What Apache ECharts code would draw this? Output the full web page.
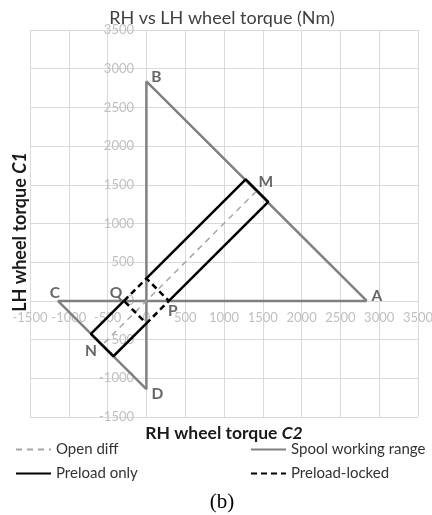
<!DOCTYPE html>
<html>
<head>
<meta charset="utf-8">
<script src="https://cdn.jsdelivr.net/npm/echarts@6/dist/echarts.min.js"></script>
<style>
html,body{margin:0;padding:0;background:#fff;}
#chart{width:432px;height:515px;}
</style>
</head>
<body>
<div id="chart"></div>
<script>
// ---- data ----
const spoolRange = [[2840, 0], [0, 2835], [0, -1140], [-1140, 0], [2840, 0]];
const openDiff = [[-545, -545], [1415, 1415]];
const preloadOnlyLower = [[-290, 0], [-715, -425], [-425, -715], [0, -290]];
const preloadOnlyUpper = [[0, 290], [1280, 1570], [1570, 1280], [290, 0]];
const preloadLocked = [[-290, 0], [0, 290], [290, 0], [0, -290], [-290, 0]];
const pointNames = ['A', 'B', 'C', 'D', 'M', 'N', 'P', 'Q'];
const pointCoords = [[2840, 0], [0, 2835], [-1140, 0], [0, -1140], [1280, 1570], [-715, -425], [290, 0], [-290, 0]];
const axisMin = -1500, axisMax = 3500, axisStep = 500;
const seriesNames = ['Open diff', 'Spool working range', 'Preload only', 'Preload-locked'];

// ---- styling / layout ----
const labelOffsets = {A: [10, -5], B: [10, -4], C: [-3, -8], D: [11, 5], M: [20, 3], N: [0, 17], P: [4, 10], Q: [-8, -8]};
const W = 432, H = 515;
const G = {left: 30, right: 14, top: 30, bottom: 98};
const plotW = W - G.left - G.right, plotH = H - G.top - G.bottom;
// shift axes so they cross at zero (value 0 position inside the grid)
const zeroFrac = (0 - axisMin) / (axisMax - axisMin);
const xAxisOffset = -Math.round(zeroFrac * plotH);
const yAxisOffset = -Math.round(zeroFrac * plotW);

const FONT = 'Lato, "Open Sans", sans-serif';
const chart = echarts.init(document.getElementById('chart'), null, {renderer: 'canvas'});

const axisCommon = {
  type: 'value', min: axisMin, max: axisMax, interval: axisStep,
  axisLine: {show: false, onZero: false},
  axisTick: {show: false},
  splitLine: {show: true, lineStyle: {color: '#d9d9d9', width: 1}},
  axisLabel: {color: '#bfbfbf', fontSize: 13, fontFamily: FONT, formatter: v => String(v),
              showMinLabel: true, showMaxLabel: true, hideOverlap: false}
};

const legendCommon = {
  itemWidth: 35, itemHeight: 14, padding: 0, itemGap: 0, selectedMode: false,
  itemStyle: {color: 'rgba(0,0,0,0)', borderWidth: 0, opacity: 0},
  textStyle: {fontSize: 15, color: '#333333', fontFamily: FONT}
};

chart.setOption({
  animation: false,
  backgroundColor: '#fff',
  title: [
    {text: 'RH vs LH wheel torque (Nm)', left: 222, top: 9, textAlign: 'center', padding: 0,
     textStyle: {fontSize: 18, fontWeight: 'normal', color: '#404040', fontFamily: FONT}},
    {text: '(b)', left: 222, top: 492, textAlign: 'center', padding: 0,
     textStyle: {fontSize: 21, fontWeight: 'normal', color: '#000', fontFamily: '"Liberation Serif", serif'}}
  ],
  graphic: [
    {type: 'text', x: 224, y: 433, style: {
      text: 'RH wheel torque {i|C2}', fill: '#1a1a1a', font: 'bold 17.5px ' + FONT,
      align: 'center', verticalAlign: 'middle',
      rich: {i: {fontStyle: 'italic', fontWeight: 'bold', fontSize: 17.5, fontFamily: FONT, fill: '#1a1a1a'}}
    }},
    {type: 'text', x: 20, y: 232, rotation: Math.PI / 2, style: {
      text: 'LH wheel torque {i|C1}', fill: '#1a1a1a', font: 'bold 18px ' + FONT,
      align: 'center', verticalAlign: 'middle',
      rich: {i: {fontStyle: 'italic', fontWeight: 'bold', fontSize: 18, fontFamily: FONT, fill: '#1a1a1a'}}
    }}
  ],
  legend: [
    Object.assign({data: [seriesNames[0]], left: 15, top: 442}, legendCommon),
    Object.assign({data: [seriesNames[1]], left: 250, top: 442}, legendCommon),
    Object.assign({data: [seriesNames[2]], left: 15, top: 466}, legendCommon),
    Object.assign({data: [seriesNames[3]], left: 250, top: 466}, legendCommon)
  ],
  grid: {left: G.left, right: G.right, top: G.top, bottom: G.bottom, containLabel: false, outerBoundsMode: 'none'},
  xAxis: Object.assign({}, axisCommon, {position: 'bottom', offset: xAxisOffset,
    axisLabel: Object.assign({}, axisCommon.axisLabel, {margin: 10})}),
  yAxis: Object.assign({}, axisCommon, {position: 'left', offset: yAxisOffset,
    axisLabel: Object.assign({}, axisCommon.axisLabel, {margin: 12})}),
  series: [
    {name: seriesNames[1], type: 'line', data: spoolRange, symbol: 'none', z: 2,
     lineStyle: {color: '#808080', width: 2.5}, itemStyle: {color: '#808080'}},
    {name: seriesNames[0], type: 'line', data: openDiff, symbol: 'none', z: 3,
     lineStyle: {color: '#a6a6a6', width: 1.5, type: [6, 5]}, itemStyle: {color: '#a6a6a6'}},
    {name: seriesNames[2], type: 'line', data: preloadOnlyLower, symbol: 'none', z: 4,
     lineStyle: {color: '#000', width: 2.5}, itemStyle: {color: '#000'}},
    {name: seriesNames[2], type: 'line', data: preloadOnlyUpper, symbol: 'none', z: 4,
     lineStyle: {color: '#000', width: 2.5}, itemStyle: {color: '#000'}},
    {name: seriesNames[3], type: 'line', data: preloadLocked, symbol: 'none', z: 4,
     lineStyle: {color: '#000', width: 2.5, type: [6, 4]}, itemStyle: {color: '#000'}},
    {name: 'points', type: 'scatter', z: 5, symbolSize: 1,
     itemStyle: {color: 'rgba(0,0,0,0)', borderWidth: 0},
     emphasis: {disabled: true},
     data: pointNames.map((n, i) => ({name: n, value: pointCoords[i],
       label: {show: true, position: 'inside', offset: labelOffsets[n], formatter: n,
         color: '#404040', fontSize: 15.5, fontWeight: 'bold', fontFamily: FONT}}))}
  ]
});
</script>
</body>
</html>
